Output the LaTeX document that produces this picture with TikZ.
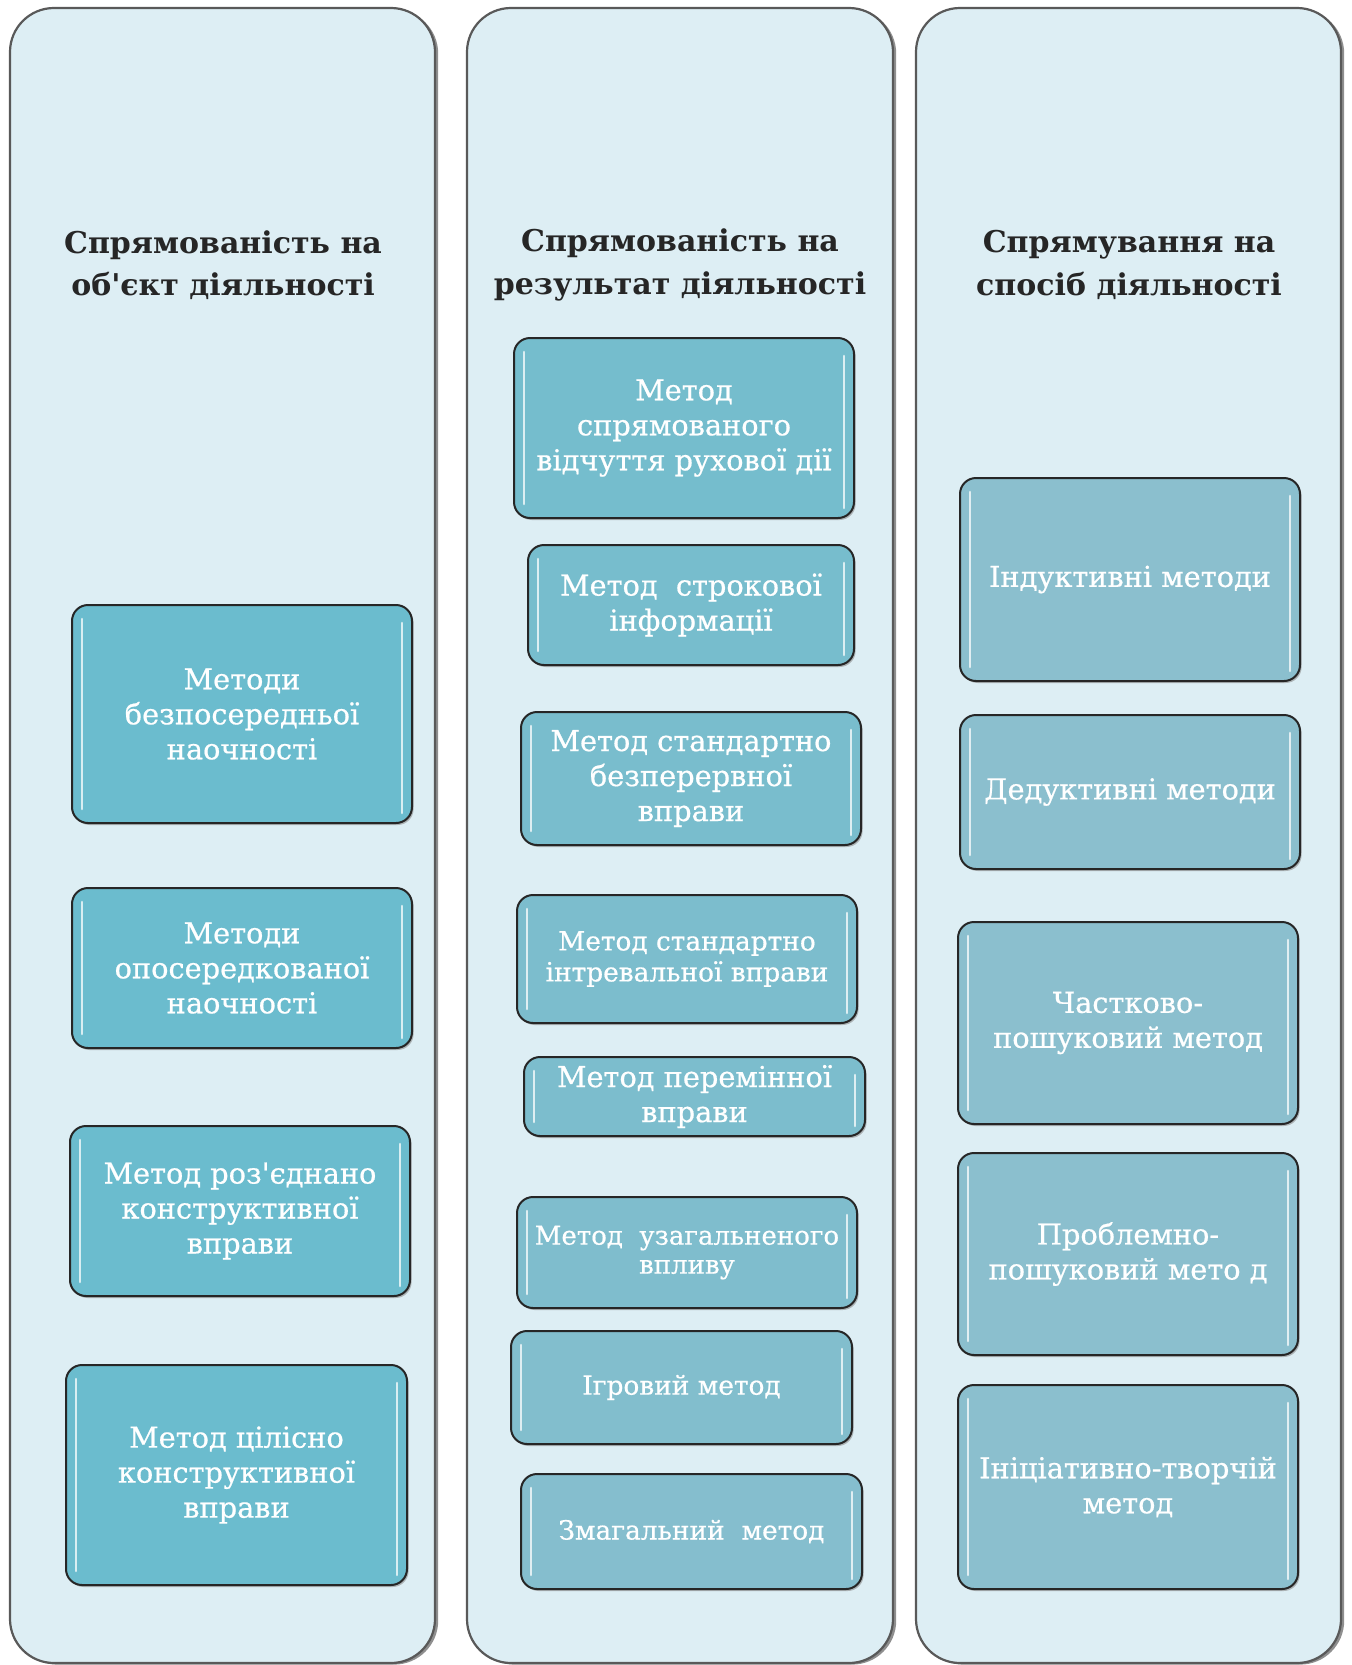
\documentclass[tikz,border=0pt]{standalone}
\usepackage{fontspec}
\setmainfont{DejaVu Serif}
\newfontfamily\boxfont{DejaVu Serif}[FakeBold=0.6]
\usetikzlibrary{shadows}

\definecolor{panelblue}{HTML}{DDEEF4}
\definecolor{tealA}{HTML}{6BBCCE}
\definecolor{tealB}{HTML}{7CBDCD}
\definecolor{tealC}{HTML}{8BBFCE}

\tikzset{
    panel/.style={draw=black!65, line width=1.1pt, fill=panelblue, rounded corners=22pt,
        drop shadow={shadow xshift=1.6pt, shadow yshift=-0.8pt, fill=black!55, opacity=0.8}},
    heading/.style={align=center, text=black!85, font=\fontsize{15}{21.3}\selectfont\bfseries},
    method/.style={draw=black!85, line width=1pt, rounded corners=8pt, text=white, align=center,
        inner sep=1pt, font=\boxfont\fontsize{14.4}{17.5}\selectfont,
        drop shadow={shadow xshift=0.8pt, shadow yshift=-1pt, fill=black!45, opacity=0.6},
        path picture={
            \draw[white, opacity=0.75, line width=1.3pt, line cap=round]
                ([xshift=5pt, yshift=-7pt]path picture bounding box.north west) --
                ([xshift=5pt, yshift=7pt]path picture bounding box.south west)
                ([xshift=-5pt, yshift=-9pt]path picture bounding box.north east) --
                ([xshift=-5pt, yshift=5pt]path picture bounding box.south east);
        }},
    small/.style={font=\boxfont\fontsize{13.2}{15.5}\selectfont},
}

\begin{document}
\begin{tikzpicture}[x=0.5pt, y=-0.5pt]
    \useasboundingbox (0,0) rectangle (1352,1665);

    \node[panel, minimum width=212.5pt, minimum height=827.5pt] (obj) at (222.5,835.5) {};
    \node[panel, minimum width=213pt, minimum height=827.5pt] (res) at (680,835.5) {};
    \node[panel, minimum width=212.5pt, minimum height=827.5pt] (way) at (1128.5,835.5) {};

    \node[heading] (objtitle) at (223,265) {Спрямованість на\\об\textquotesingle єкт діяльності};
    \node[heading] (restitle) at (680,265) {Спрямованість на\\результат діяльності};
    \node[heading] (waytitle) at (1129,265) {Спрямування на\\спосіб діяльності};

    % first column
    \node[method, fill=tealA, minimum width=170pt, minimum height=109pt] (direct) at (242,714) {Методи\\безпосередньої\\наочності};
    \node[method, fill=tealA, minimum width=170pt, minimum height=80pt] (indirect) at (242,968) {Методи\\опосередкованої\\наочності};
    \node[method, fill=tealA, minimum width=170pt, minimum height=85pt] (split) at (240,1211) {Метод роз\textquotesingle єднано\\конструктивної\\вправи};
    \node[method, fill=tealA, minimum width=170.5pt, minimum height=110pt] (whole) at (236.5,1475) {Метод цілісно\\конструктивної\\вправи};

    % second column
    \node[method, fill=tealB!60!tealA, minimum width=170pt, minimum height=90pt] (feel) at (684,428) {Метод\\спрямованого\\відчуття рухової дії};
    \node[method, fill=tealB!70!tealA, minimum width=163pt, minimum height=60pt] (urgent) at (691,605) {Метод\ \ строкової\\інформації};
    \node[method, fill=tealB!80!tealA, minimum width=170pt, minimum height=66.5pt] (steady) at (691,778.5) {Метод стандартно\\безперервної\\вправи};
    \node[method, small, fill=tealB, minimum width=170pt, minimum height=64pt] (interval) at (687,959) {Метод стандартно\\інтревальної вправи};
    \node[method, fill=tealB, minimum width=170.5pt, minimum height=39.5pt] (variable) at (694.5,1096.5) {Метод перемінної\\вправи};
    \node[method, small, fill=tealB!80!tealC, minimum width=170pt, minimum height=55.5pt, font=\boxfont\fontsize{13}{14.5}\selectfont] (general) at (687,1252.5) {Метод\ \ узагальненого\\впливу};
    \node[method, small, fill=tealB!60!tealC, minimum width=170.5pt, minimum height=56.5pt] (game) at (681.5,1387.5) {Ігровий метод};
    \node[method, small, fill=tealB!40!tealC, minimum width=170.5pt, minimum height=57.5pt] (contest) at (691.5,1531.5) {Змагальний\ \ метод};

    % third column
    \node[method, fill=tealC, minimum width=170pt, minimum height=101.5pt] (induct) at (1130,579.5) {Індуктивні методи};
    \node[method, fill=tealC, minimum width=170pt, minimum height=77pt] (deduct) at (1130,792) {Дедуктивні методи};
    \node[method, fill=tealC, minimum width=170pt, minimum height=101pt] (partial) at (1128,1023) {Частково-\\пошуковий метод};
    \node[method, fill=tealC, minimum width=170pt, minimum height=101pt] (problem) at (1128,1254) {Проблемно-\\пошуковий мето д};
    \node[method, fill=tealC, minimum width=170pt, minimum height=102pt] (creative) at (1128,1487) {Ініціативно-творчій\\метод};
\end{tikzpicture}
\end{document}
